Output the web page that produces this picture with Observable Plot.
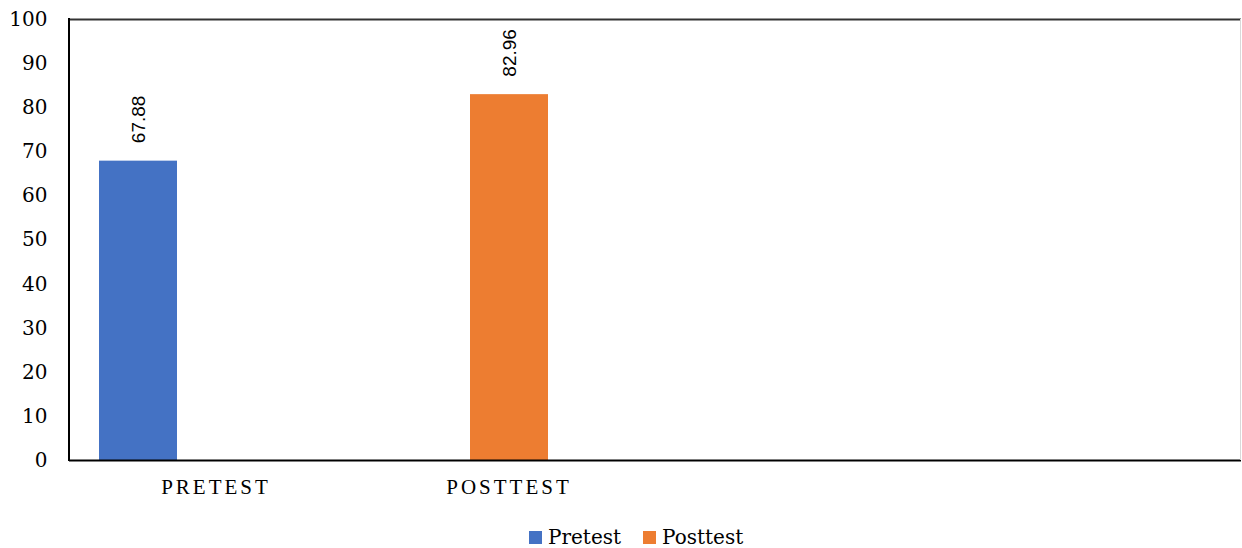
<!DOCTYPE html>
<html>
<head>
<meta charset="utf-8">
<script src="https://cdn.jsdelivr.net/npm/d3@7"></script>
<script src="https://cdn.jsdelivr.net/npm/@observablehq/plot@0.6"></script>
<style>
  body { margin: 0; background: #fff; }
  #chart svg { display: block; }
  .cat-axis text { letter-spacing: 3px; }
  #legend { display: flex; align-items: center; margin-left: 529px; padding-top: 20px;
            font-family: "DejaVu Serif"; font-size: 20px; color: #000; line-height: 24px; }
  #legend .item { display: flex; align-items: center; margin-right: 22px; }
  #legend .sw { width: 13px; height: 13px; margin-right: 6px; }
</style>
</head>
<body>
<div id="chart"></div>
<div id="legend"></div>
<script>
// ---- data ----
const categories = ["PRETEST", "POSTTEST", "C3", "C4"];
const categoryLabels = ["PRETEST", "POSTTEST", "", ""];
const seriesNames = ["Pretest", "Posttest", "S3"];
const legendSeries = ["Pretest", "Posttest"];
const seriesColors = ["#4472C4", "#ED7D31"];
const pretestValues = [67.88];
const posttestValues = [82.96];
const yTicks = [0, 10, 20, 30, 40, 50, 60, 70, 80, 90, 100];

const data = [
  {category: categories[0], series: "Pretest", value: pretestValues[0]},
  {category: categories[1], series: "Posttest", value: posttestValues[0]}
];
const labelOf = new Map(categories.map((c, i) => [c, categoryLabels[i]]));

const chart = Plot.plot({
  width: 1242,
  height: 505,
  marginLeft: 69,
  marginTop: 19,
  marginRight: 1,
  marginBottom: 45,
  style: {fontFamily: "DejaVu Serif", fontSize: "20px", color: "#000", background: "#fff"},
  fx: {domain: categories, padding: 0},
  x: {domain: seriesNames, paddingInner: 0, paddingOuter: 0.355, axis: null},
  y: {domain: [0, 100]},
  color: {domain: legendSeries, range: seriesColors},
  marks: [
    Plot.barY(data, {fx: "category", x: "series", y: "value", fill: "series"}),
    Plot.text(data, {fx: "category", x: "series", y: "value", text: d => d.value.toFixed(2),
      rotate: -90, textAnchor: "start", lineAnchor: "middle", dy: -18,
      fontFamily: "Liberation Sans", fontSize: 19, fill: "#000"}),
    Plot.ruleY(categories, {fx: d => d, y: () => 100, stroke: "#333", strokeWidth: 2}),
    Plot.ruleY(categories, {fx: d => d, y: () => 0, stroke: "#000", strokeWidth: 2}),
    Plot.axisY({ticks: yTicks, tickSize: 0, tickPadding: 22, label: null, fontSize: 20}),
    Plot.axisFx({anchor: "bottom", tickSize: 0, tickPadding: 19, label: null, tickFormat: d => labelOf.get(d),
      fontFamily: "Liberation Serif", fontSize: 21, className: "cat-axis"})
  ]
});

// frame sides from scales
const fxs = chart.scale("fx"), ys = chart.scale("y");
const x0 = fxs.apply(categories[0]);
const x1 = fxs.apply(categories[categories.length - 1]) + fxs.bandwidth;
const svg = d3.select(chart);
svg.append("line").attr("x1", x0).attr("x2", x0).attr("y1", ys.apply(100) - 1).attr("y2", ys.apply(0) + 1)
  .attr("stroke", "#000").attr("stroke-width", 2);
svg.append("line").attr("x1", x1 - 0.5).attr("x2", x1 - 0.5).attr("y1", ys.apply(100)).attr("y2", ys.apply(0))
  .attr("stroke", "#d9d9d9").attr("stroke-width", 1);

document.getElementById("chart").appendChild(chart);

const legend = document.getElementById("legend");
legendSeries.forEach((s, i) => {
  const item = document.createElement("div");
  item.className = "item";
  const sw = document.createElement("div");
  sw.className = "sw";
  sw.style.background = seriesColors[i];
  const t = document.createElement("span");
  t.textContent = s;
  item.appendChild(sw);
  item.appendChild(t);
  legend.appendChild(item);
});
</script>
</body>
</html>
